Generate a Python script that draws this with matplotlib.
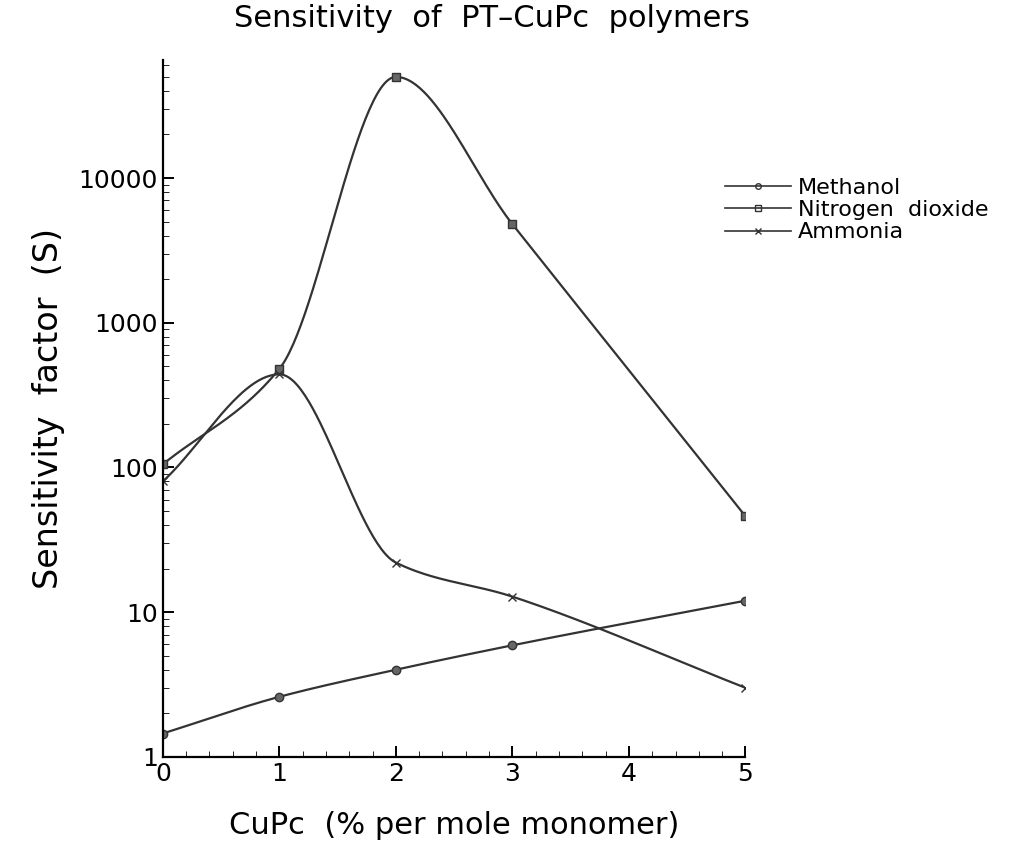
import numpy as np
import matplotlib.pyplot as plt
from matplotlib.ticker import FixedLocator, MultipleLocator, NullFormatter

x = [0, 1, 2, 3, 5]
methanol = [1.45, 2.6, 4.0, 5.9, 12.0]
nitrogen_dioxide = [105, 480, 50000, 4800, 46]
ammonia = [80, 440, 22, 12.8, 3.0]


def smooth(xs, ys, n=300):
    # monotone cubic (pchip) on log10(y), no overshoot at peaks
    xs = np.asarray(xs, float)
    ys = np.log10(ys)
    h = np.diff(xs)
    dl = np.diff(ys) / h
    k = len(xs)
    m = np.zeros(k)
    for i in range(1, k - 1):
        if dl[i - 1] * dl[i] > 0:
            w1 = 2 * h[i] + h[i - 1]
            w2 = h[i] + 2 * h[i - 1]
            m[i] = (w1 + w2) / (w1 / dl[i - 1] + w2 / dl[i])
    m[0] = dl[0]
    m[-1] = dl[-1]
    xx = np.linspace(xs[0], xs[-1], n)
    yy = np.empty_like(xx)
    for j, t in enumerate(xx):
        i = min(np.searchsorted(xs, t, side='right') - 1, k - 2)
        s = (t - xs[i]) / h[i]
        h00 = 2 * s ** 3 - 3 * s ** 2 + 1
        h10 = s ** 3 - 2 * s ** 2 + s
        h01 = -2 * s ** 3 + 3 * s ** 2
        h11 = s ** 3 - s ** 2
        yy[j] = h00 * ys[i] + h10 * h[i] * m[i] + h01 * ys[i + 1] + h11 * h[i] * m[i + 1]
    return xx, 10 ** yy


fig = plt.figure(figsize=(10.24, 8.63), dpi=100)
ax = fig.add_axes([0.159, 0.123, 0.569, 0.807])

series = [('Methanol', methanol, 'o'), ('Nitrogen  dioxide', nitrogen_dioxide, 's'), ('Ammonia', ammonia, 'x')]
for name, ys, m in series:
    xx, yy = smooth(x, ys)
    ax.plot(xx, yy, color='#333333', lw=1.6)
    ax.plot(x, ys, ls='none', marker=m, color='#333333', ms=6, mfc='#666666')
    ax.plot([], [], color='#333333', lw=1.2, marker=m, ms=4, mfc='none', label=name)

ax.set_yscale('log')
ax.set_xlim(0, 5)
ax.set_ylim(1, 65000)
ax.yaxis.set_major_locator(FixedLocator([1, 10, 100, 1000, 10000]))
ax.set_yticklabels(['1', '10', '100', '1000', '10000'])
ax.yaxis.set_minor_formatter(NullFormatter())
ax.xaxis.set_minor_locator(MultipleLocator(0.2))
ax.tick_params(direction='in', labelsize=18, length=8, width=1.4)
ax.tick_params(which='minor', direction='in', length=4)
for s in ['top', 'right']:
    ax.spines[s].set_visible(False)
for s in ['left', 'bottom']:
    ax.spines[s].set_linewidth(1.6)

ax.set_xlabel('CuPc  (% per mole monomer)', fontsize=22, labelpad=18)
ax.set_ylabel('Sensitivity  factor  (S)', fontsize=24, labelpad=10)
fig.suptitle('Sensitivity  of  PT\u2013CuPc  polymers', fontsize=22, x=0.48, y=0.995)

ax.legend(loc='upper left', bbox_to_anchor=(0.93, 0.86), frameon=False, fontsize=16,
          handlelength=3, handletextpad=0.3, labelspacing=0.1)

fig.savefig('out.png')
